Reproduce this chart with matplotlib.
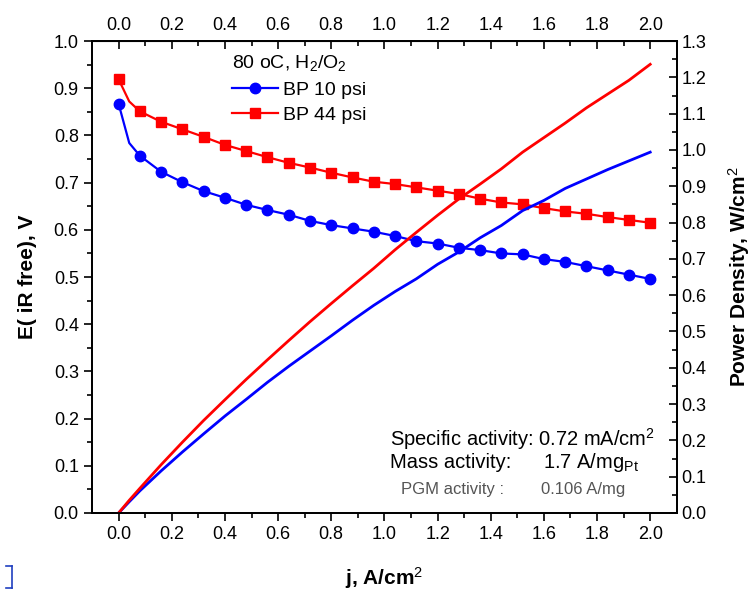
import matplotlib
matplotlib.use('Agg')
import matplotlib.pyplot as plt
from matplotlib.lines import Line2D

plt.rcParams['font.family'] = ['Liberation Sans', 'DejaVu Sans']
plt.rcParams['mathtext.fontset'] = 'custom'
plt.rcParams['mathtext.rm'] = 'Liberation Sans'
plt.rcParams['mathtext.it'] = 'Liberation Sans'
plt.rcParams['mathtext.bf'] = 'Liberation Sans:bold'

# current density, A/cm2
j = [0.00, 0.04, 0.08, 0.16, 0.24, 0.32, 0.40, 0.48, 0.56, 0.64, 0.72, 0.80, 0.88,
     0.96, 1.04, 1.12, 1.20, 1.28, 1.36, 1.44, 1.52, 1.60, 1.68, 1.76, 1.84, 1.92, 2.00]

# iR-free voltage, V
v_bp10 = [0.867, 0.784, 0.757, 0.723, 0.701, 0.682, 0.668, 0.653, 0.642, 0.632, 0.619,
          0.610, 0.603, 0.596, 0.587, 0.576, 0.571, 0.562, 0.557, 0.550, 0.548, 0.538,
          0.532, 0.523, 0.514, 0.505, 0.496]
v_bp44 = [0.919, 0.872, 0.851, 0.829, 0.813, 0.797, 0.780, 0.767, 0.754, 0.742, 0.732,
          0.721, 0.711, 0.702, 0.697, 0.690, 0.683, 0.676, 0.666, 0.658, 0.654, 0.646,
          0.639, 0.634, 0.627, 0.621, 0.615]

# power density, W/cm2
p_bp10 = [0.000, 0.031, 0.061, 0.116, 0.168, 0.218, 0.267, 0.313, 0.360, 0.404, 0.446,
          0.488, 0.531, 0.572, 0.610, 0.645, 0.685, 0.719, 0.758, 0.792, 0.833, 0.861,
          0.894, 0.920, 0.946, 0.970, 0.994]
p_bp44 = [0.000, 0.035, 0.068, 0.133, 0.195, 0.255, 0.312, 0.368, 0.422, 0.475, 0.527,
          0.577, 0.626, 0.674, 0.725, 0.773, 0.820, 0.865, 0.906, 0.948, 0.994, 1.034,
          1.074, 1.116, 1.154, 1.192, 1.236]

x_ticks = [0.0, 0.2, 0.4, 0.6, 0.8, 1.0, 1.2, 1.4, 1.6, 1.8, 2.0]
marked = [0] + list(range(2, len(j)))

fig = plt.figure(figsize=(7.55, 5.91), dpi=100)
ax = fig.add_axes([0.1219, 0.132, 0.7745, 0.7985])
ax2 = ax.twinx()

ax.plot(j, v_bp10, '-o', color='#0000ff', lw=1.6, ms=7.5, markevery=marked, label='BP 10 psi')
ax.plot(j, v_bp44, '-s', color='#ff0000', lw=1.6, ms=6.5, markevery=marked, label='BP 44 psi')
ax2.plot(j, p_bp10, '-', color='#0000ff', lw=2)
ax2.plot(j, p_bp44, '-', color='#ff0000', lw=2)

ax.set_xlim(-0.1, 2.1)
ax.set_ylim(0, 1.0)
ax2.set_ylim(0, 1.3)

ax.set_xticks(x_ticks)
ax.set_xticks([t + 0.1 for t in x_ticks[:-1]], minor=True)
ax.set_xticklabels([f'{t:.1f}' for t in x_ticks])
ax.set_yticks([i / 10 for i in range(11)])
ax.set_yticks([i / 20 for i in range(1, 20, 2)], minor=True)
ax2.set_yticks([i / 10 for i in range(14)])
ax2.set_yticks([i / 20 for i in range(1, 26, 2)], minor=True)

for a in (ax, ax2):
    for s in a.spines.values():
        s.set_linewidth(1.3)
ax.tick_params(which='major', direction='out', length=6, width=1.2, labelsize=13)
ax.tick_params(which='minor', direction='out', length=3.5, width=1.2)
ax2.tick_params(which='major', direction='in', length=6, width=1.2, labelsize=13)
ax2.tick_params(which='minor', direction='in', length=3.5, width=1.2)

top = ax.secondary_xaxis('top')
top.set_xticks(x_ticks)
top.set_xticks([t + 0.1 for t in x_ticks[:-1]], minor=True)
top.set_xticklabels([f'{t:.1f}' for t in x_ticks])
top.tick_params(which='major', direction='in', length=6, width=1.2, labelsize=13, pad=5)
top.tick_params(which='minor', direction='in', length=3.5, width=1.2)

ax.set_xlabel('j, A/cm$^2$', fontsize=15, fontweight='bold', labelpad=16)
ax.set_ylabel('E( iR free), V', fontsize=15, fontweight='bold', labelpad=12)
ax2.set_ylabel('Power Density, W/cm$^2$', fontsize=15, fontweight='bold', labelpad=14)

leg = ax.legend(loc='upper left', bbox_to_anchor=(0.222, 0.995), frameon=False,
                title='80 oC, H$_2$/O$_2$', fontsize=14, title_fontsize=14,
                handlelength=2.4, handletextpad=0.25, labelspacing=0.4, borderpad=0,
                alignment='left')

ax.text(0.51, 0.157, 'Specific activity: 0.72 mA/cm$^2$', transform=ax.transAxes,
        fontsize=14.5, va='center', ha='left')
ax.text(0.51, 0.108, 'Mass activity:', transform=ax.transAxes, fontsize=14.5,
        va='center', ha='left')
ax.text(0.772, 0.108, '1.7 A/mg$_{Pt}$', transform=ax.transAxes, fontsize=14.5,
        va='center', ha='left')
ax.text(0.528, 0.05, 'PGM activity :', transform=ax.transAxes, fontsize=12,
        va='center', ha='left', color='#555555')
ax.text(0.768, 0.05, '0.106 A/mg', transform=ax.transAxes, fontsize=12,
        va='center', ha='left', color='#555555')

# small blue bracket at the lower left corner
fig.add_artist(Line2D([0.016, 0.016], [0.005, 0.042], color='#2040c0', lw=1.2))
fig.add_artist(Line2D([0.008, 0.016], [0.042, 0.042], color='#2040c0', lw=1.2))
fig.add_artist(Line2D([0.008, 0.016], [0.005, 0.005], color='#2040c0', lw=1.2))

fig.savefig('out.png', dpi=100)
